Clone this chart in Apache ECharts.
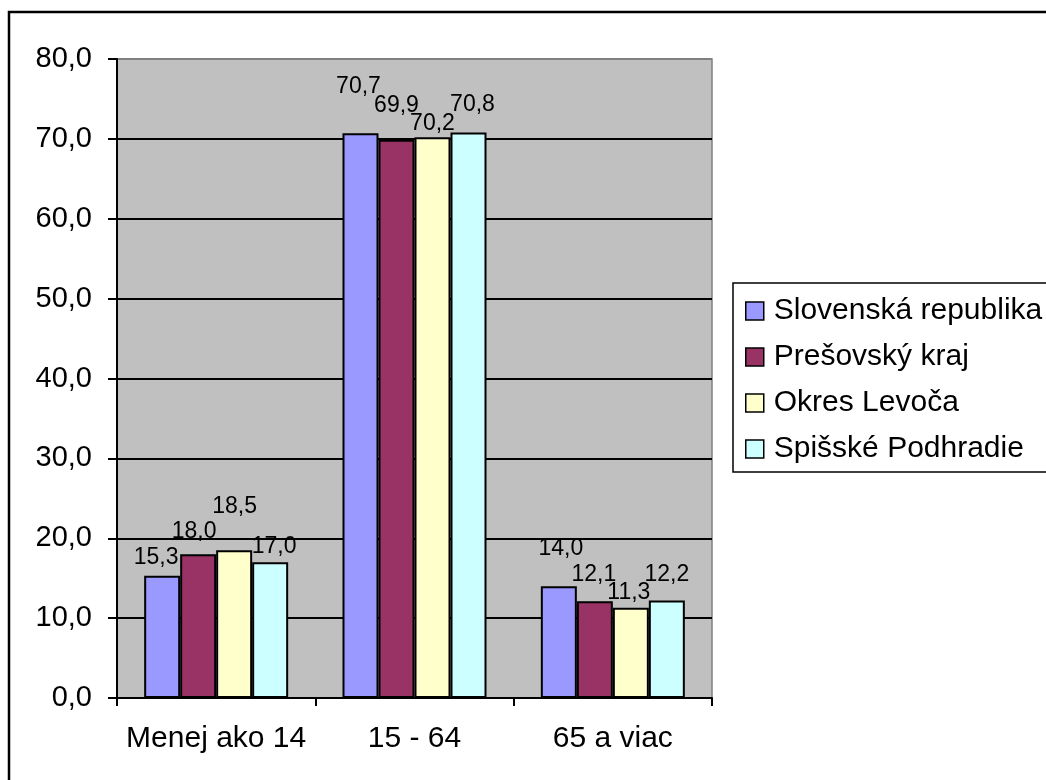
<!DOCTYPE html>
<html>
<head>
<meta charset="UTF-8">
<title>Vekové zloženie obyvateľstva</title>
<script src="https://cdn.jsdelivr.net/npm/echarts@6/dist/echarts.min.js"></script>
<style>
  html, body { margin: 0; padding: 0; background: #fff; }
</style>
</head>
<body>
<div id="main" style="width: 1046px;height:780px;"></div>
<script type="text/javascript">
// vekové skupiny (os X)
var categories = ['Menej ako 14', '15 - 64', '65 a viac'];
var seriesNames = ['Slovenská republika', 'Prešovský kraj', 'Okres Levoča', 'Spišské Podhradie'];

// podiel v % pre každé územie
var slovensko = [15.3, 70.7, 14.0];
var presov = [18.0, 69.9, 12.1];
var levoca = [18.5, 70.2, 11.3];
var podhradie = [17.0, 70.8, 12.2];

// os Y
var yMin = 0, yMax = 80, yStep = 10;

var colors = ['#9999ff', '#993366', '#ffffcc', '#ccffff'];
var font = 'Liberation Sans, Arial, sans-serif';

// posun popiskov - Excel ich odsunul, aby sa neprekryvali
var labelShift = [
    [[-6, -7.5], [-2, -36], [2, -27]],
    [[-4, -11.5], [0, -23.5], [-1, -16]],
    [[0.5, -32.5], [0, -2.5], [-2, -4]],
    [[4, -4.5], [4, -16.5], [0, -15]]
];

function fmt(v) {
    return v.toFixed(1).replace('.', ',');
}

var allValues = [slovensko, presov, levoca, podhradie];
var series = [];
for (var s = 0; s < allValues.length; s++) {
    var items = [];
    for (var i = 0; i < allValues[s].length; i++) {
        items.push({
            value: allValues[s][i],
            label: { offset: labelShift[s][i] }
        });
    }
    series.push({
        name: seriesNames[s],
        type: 'bar',
        barWidth: 36,
        barGap: '0%',
        data: items,
        itemStyle: {
            color: colors[s],
            borderColor: '#000',
            borderWidth: 2
        },
        label: {
            show: true,
            position: 'top',
            distance: 0,
            fontSize: 23,
            lineHeight: 22,
            fontFamily: font,
            color: '#000',
            formatter: function (p) { return fmt(p.value); }
        }
    });
}

// cierne vodorovne ciary, posledna (80) splyva so sivym okrajom
var splitColors = [];
for (var k = yMin; k < yMax; k += yStep) splitColors.push('#000');
splitColors.push('#808080');

var myChart = echarts.init(document.getElementById('main'));
var option = {
    animation: false,
    backgroundColor: '#fff',
    color: colors,
    graphic: [
        {
            type: 'rect',
            shape: { x: 9, y: 12, width: 1100, height: 900 },
            style: { fill: 'none', stroke: '#000', lineWidth: 2.5 }
        },
        {
            type: 'rect',
            shape: { x: 733, y: 283, width: 400, height: 189 },
            style: { fill: '#fff', stroke: '#000', lineWidth: 1.5 }
        }
    ],
    legend: {
        orient: 'vertical',
        left: 745,
        top: 296,
        padding: 0,
        itemWidth: 18,
        itemHeight: 18,
        itemGap: 16,
        icon: 'rect',
        data: seriesNames,
        itemStyle: { borderColor: '#000', borderWidth: 1.5 },
        textStyle: {
            fontSize: 30,
            lineHeight: 26,
            fontFamily: font,
            color: '#000',
            padding: [0, 0, 0, 5]
        }
    },
    grid: {
        left: 117,
        top: 59,
        right: 334,
        bottom: 82,
        show: true,
        backgroundColor: '#c0c0c0',
        borderColor: '#808080',
        borderWidth: 1.5
    },
    xAxis: {
        type: 'category',
        data: categories,
        axisLine: { lineStyle: { color: '#000', width: 2 } },
        axisTick: { show: true, length: 8, lineStyle: { color: '#000', width: 2 } },
        axisLabel: { interval: 0, fontSize: 30, fontFamily: font, color: '#000', margin: 26 },
        splitLine: { show: false }
    },
    yAxis: {
        type: 'value',
        min: yMin,
        max: yMax,
        interval: yStep,
        axisLine: { show: true, lineStyle: { color: '#000', width: 2 } },
        axisTick: { show: true, length: 9, lineStyle: { color: '#000', width: 2 } },
        axisLabel: {
            fontSize: 29,
            fontFamily: font,
            color: '#000',
            margin: 25,
            formatter: function (v) { return fmt(v); }
        },
        splitLine: { show: true, lineStyle: { color: splitColors, width: 2 } }
    },
    series: series
};
myChart.setOption(option);
</script>
</body>
</html>
